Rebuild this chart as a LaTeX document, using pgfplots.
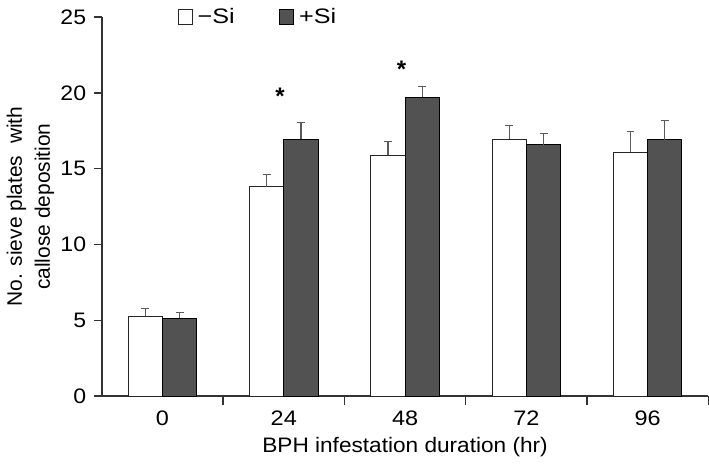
\documentclass[border=0pt]{standalone}
\usepackage{fontspec}
\setmainfont{Liberation Sans}
\usepackage{pgfplots}
\pgfplotsset{compat=1.18}
\definecolor{darkbar}{RGB}{82,82,82}
\definecolor{errgray}{RGB}{90,90,90}

\begin{document}
\begin{tikzpicture}
\begin{axis}[
    scale only axis,
    width=304pt, height=190pt,
    ymin=0, ymax=25,
    xmin=-0.5, xmax=4.5,
    axis x line*=bottom,
    axis y line*=left,
    axis line style={black!80, line width=0.7pt},
    ytick={0,5,...,25},
    xtick={0,1,2,3,4},
    xticklabels={0,24,48,72,96},
    minor xtick={0.5,1.5,2.5,3.5,4.5},
    major x tick style={draw=none},
    minor x tick style={black!80, line width=0.7pt},
    minor tick length=4.5pt,
    y tick style={black!80, line width=0.7pt},
    major tick length=4pt,
    xtick pos=bottom, ytick pos=left,
    ytick align=outside,
    xtick align=inside,
    /pgf/number format/assume math mode=true,
    tick label style={font=\fontsize{10.5}{12}\selectfont},
    xticklabel style={xscale=1.12},
    yticklabel style={xscale=1.1},
    label style={font=\fontsize{10.5}{14}\selectfont},
    xlabel={BPH infestation duration (hr)},
    ylabel={No. sieve plates\ \ with\\callose deposition},
    ylabel style={align=center, yshift=-4pt},
    xlabel style={yshift=1pt, xscale=1.08},
    ybar=0pt,
    bar width=0.283,
    legend columns=2,
    legend style={draw=none, fill=none, at={(0.115,1.0)}, anchor=west,
        font=\fontsize{10.5}{12}\selectfont,
        nodes={xscale=1.2},
        /tikz/every even column/.append style={column sep=20pt}},
    legend image code/.code={\draw[#1] (0pt,-3.7pt) rectangle (7pt,3.7pt);},
    error bars/y dir=plus,
    error bars/y explicit,
    error bars/error bar style={errgray, line width=0.6pt},
    error bars/error mark options={errgray, line width=0.6pt, mark size=2pt, rotate=90},
]
\addplot[draw=black!85, fill=white, line width=0.5pt] coordinates {
    (0,5.26) +- (0,0.54)
    (1,13.8) +- (0,0.8)
    (2,15.88) +- (0,0.92)
    (3,16.95) +- (0,0.9)
    (4,16.07) +- (0,1.38)
};
\addplot[draw=black, fill=darkbar, line width=0.5pt] coordinates {
    (0,5.15) +- (0,0.35)
    (1,16.95) +- (0,1.1)
    (2,19.7) +- (0,0.7)
    (3,16.58) +- (0,0.72)
    (4,16.9) +- (0,1.3)
};
\legend{−Si,+Si}
\node[font=\fontsize{12}{12}\selectfont\bfseries] at (axis cs:0.97,19.75) {*};
\node[font=\fontsize{12}{12}\selectfont\bfseries] at (axis cs:1.97,21.55) {*};
\end{axis}
\end{tikzpicture}
\end{document}
